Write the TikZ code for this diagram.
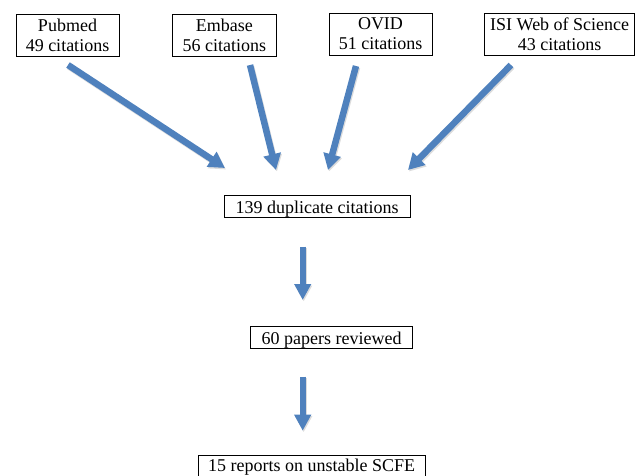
\documentclass[tikz,border=0pt]{standalone}
\usepackage{fontspec}
\setmainfont{Liberation Serif}
\usetikzlibrary{arrows.meta}
\definecolor{arrowblue}{RGB}{79,129,189}
\begin{document}
\begin{tikzpicture}[x=1pt,y=-1pt,
  every node/.style={font=\fontsize{18}{20}\selectfont},
  srcbox/.style={draw=black, line width=0.8pt, inner sep=0pt, align=center, minimum height=42pt},
  onebox/.style={draw=black, line width=0.8pt, inner sep=0pt, minimum height=22pt, text height=14.6pt, text depth=0pt},
  flow/.style={draw=arrowblue, line width=6.5pt, -{Triangle[length=16pt,width=17pt]}},
  downflow/.style={draw=arrowblue, line width=6pt, -{Triangle[length=16pt,width=16pt]}},
  shade/.style={draw=black!45, opacity=0.3, transform canvas={xshift=1pt,yshift=-1.5pt}}
]
\useasboundingbox (0,0) rectangle (638,475);
\clip (0,0) rectangle (638,475);

% source boxes
\node[srcbox, minimum width=103pt] (pub) at (67.5,35) {Pubmed\\49 citations};
\node[srcbox, minimum width=103.3pt] (emb) at (224.3,35) {Embase\\56 citations};
\node[srcbox, minimum width=103pt] (ovid) at (380.5,34) {OVID\\51 citations};
\node[srcbox, minimum width=150pt] (isi) at (559.7,34) {ISI Web of Science\\43 citations};

% flow boxes
\node[onebox, minimum width=185.7pt] (dup) at (317.2,206) {139 duplicate citations};
\node[onebox, minimum width=162pt] (pap) at (331.7,337) {60 papers reviewed};
\node[onebox, minimum width=226.7pt, text height=9pt] (rep) at (311.7,466.5) {15 reports on unstable SCFE};

% arrow end points
\coordinate (a1s) at (68,65);   \coordinate (a1e) at (225,168);
\coordinate (a2s) at (250,65);  \coordinate (a2e) at (276,170);
\coordinate (a3s) at (356,66);  \coordinate (a3e) at (328,170);
\coordinate (a4s) at (511,65);  \coordinate (a4e) at (408,170);
\coordinate (a5s) at (302.7,246.7); \coordinate (a5e) at (302.7,300);
\coordinate (a6s) at (302.7,376.7); \coordinate (a6e) at (302.7,430.7);

% shadows
\draw[flow, shade] (a1s) -- (a1e);
\draw[flow, shade] (a2s) -- (a2e);
\draw[flow, shade] (a3s) -- (a3e);
\draw[flow, shade] (a4s) -- (a4e);
\draw[downflow, shade] (a5s) -- (a5e);
\draw[downflow, shade] (a6s) -- (a6e);

% arrows
\draw[flow] (a1s) -- (a1e);
\draw[flow] (a2s) -- (a2e);
\draw[flow] (a3s) -- (a3e);
\draw[flow] (a4s) -- (a4e);
\draw[downflow] (a5s) -- (a5e);
\draw[downflow] (a6s) -- (a6e);
\end{tikzpicture}
\end{document}
